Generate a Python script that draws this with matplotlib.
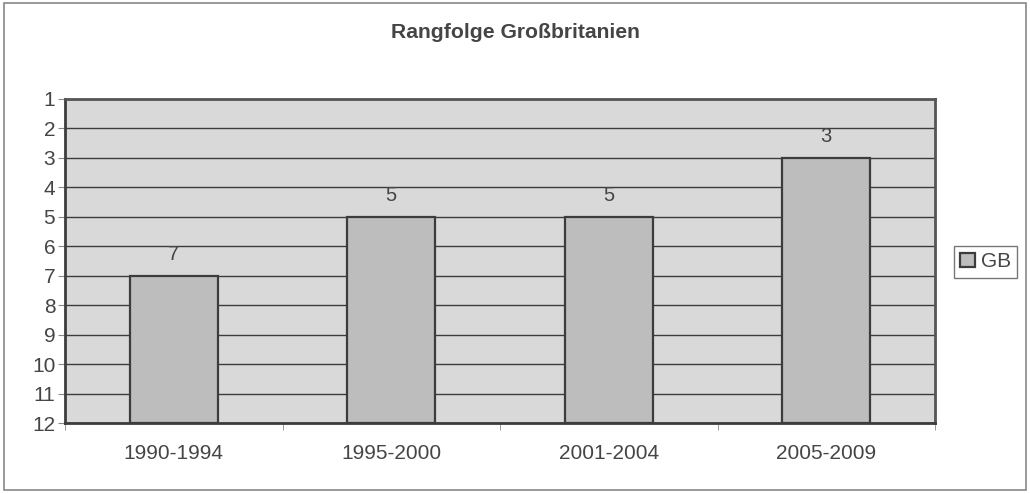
import matplotlib.pyplot as plt
from matplotlib.patches import Rectangle
import numpy as np

plt.rcParams['font.family'] = ['Liberation Sans', 'DejaVu Sans']

periods = ['1990-1994', '1995-2000', '2001-2004', '2005-2009']
ranks = [7, 5, 5, 3]
title = 'Rangfolge Großbritanien'
series_name = 'GB'

txt = '#454545'
fig = plt.figure(figsize=(10.3, 4.94), dpi=100)
fig.patch.set_facecolor('white')
fig.add_artist(Rectangle((0.004, 0.008), 0.992, 0.985, transform=fig.transFigure,
                         fill=False, edgecolor='#888888', lw=1.2))

ax = fig.add_axes([0.0631, 0.1437, 0.8447, 0.656])
ax.set_facecolor('#d9d9d9')

x = np.arange(len(periods))
bars = ax.bar(x, [r - 12 for r in ranks], bottom=12, width=0.405,
              color='#bdbdbd', edgecolor='#3c3c3c', lw=1.6, zorder=3, label=series_name)
for xi, r in zip(x, ranks):
    ax.text(xi, r - 0.4, str(r), ha='center', va='bottom', fontsize=14.5, color=txt)

ax.set_ylim(12, 1)
ax.set_xlim(-0.5, len(periods) - 0.5)
ax.set_yticks(range(1, 13))
ax.yaxis.grid(True, color='#3c3c3c', lw=1.0, zorder=1)
ax.set_xticks(x)
ax.set_xticklabels(periods)
ax.set_xticks(np.arange(-0.5, len(periods)), minor=True)
ax.tick_params(axis='x', which='major', length=0, pad=15, labelsize=15, labelcolor=txt)
ax.tick_params(axis='x', which='minor', length=5, color='#888888')
ax.tick_params(axis='y', length=5, color='#888888', labelsize=15, labelcolor=txt, pad=2)
for s in ['left', 'bottom']:
    ax.spines[s].set_color('#3c3c3c')
    ax.spines[s].set_linewidth(2)
for s in ['top', 'right']:
    ax.spines[s].set_color('#555555')
    ax.spines[s].set_linewidth(2)

fig.text(0.5, 0.935, title, ha='center', va='center', fontsize=15.2,
         fontweight='bold', color=txt)

leg = fig.legend(handles=[bars], loc='center', bbox_to_anchor=(0.957, 0.47),
                 fontsize=15, frameon=True, fancybox=False, handlelength=0.7,
                 handleheight=0.7, handletextpad=0.3, borderpad=0.3)
leg.get_frame().set_edgecolor('#555555')
for t in leg.get_texts():
    t.set_color(txt)

plt.savefig('out.png', dpi=100)
